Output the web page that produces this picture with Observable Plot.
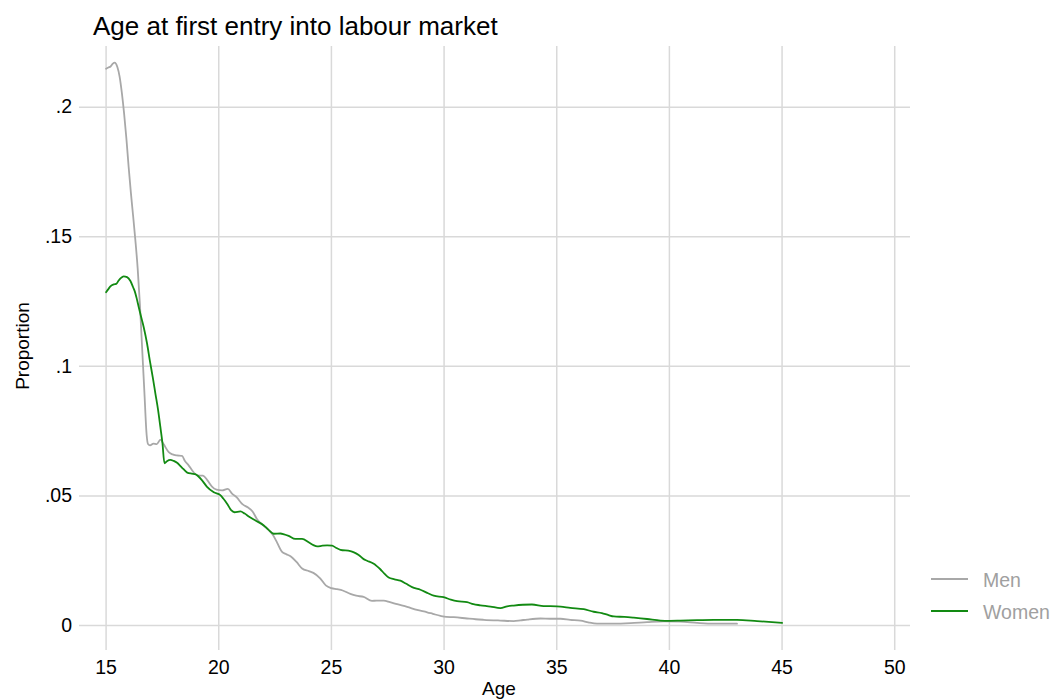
<!DOCTYPE html>
<html>
<head>
<meta charset="utf-8">
<script src="https://cdn.jsdelivr.net/npm/d3@7"></script>
<script src="https://cdn.jsdelivr.net/npm/@observablehq/plot@0.6"></script>
<style>
  body { margin: 0; background: #fff; font-family: Helvetica, Arial, "Liberation Sans", sans-serif; }
  #wrap { position: relative; width: 1053px; height: 700px; overflow: hidden; background: #fff; }
  #chart { position: absolute; left: 0; top: 0; }
  .txt { position: absolute; white-space: nowrap; line-height: 1; }
  #title { left: 93px; top: 13px; font-size: 26px; color: #000; }
  #ylab { left: 22px; top: 346px; font-size: 19px; color: #000; transform: translate(-50%, -50%) rotate(-90deg); }
  #xlab { left: 499px; top: 679px; font-size: 19px; color: #000; transform: translateX(-50%); }
  .legline { position: absolute; left: 931px; width: 37px; height: 0; }
  .legtxt { position: absolute; left: 983px; font-size: 19.5px; color: #a0a0a0; line-height: 1; white-space: nowrap; }
</style>
</head>
<body>
<div id="wrap">
  <div id="chart"></div>
  <div id="title" class="txt">Age at first entry into labour market</div>
  <div id="ylab" class="txt">Proportion</div>
  <div id="xlab" class="txt">Age</div>
  <div id="legend"></div>
</div>
<script>
// ---- data ----
const seriesNames = ["Men", "Women"];
const seriesColors = ["#a8a8a8", "#128a12"];

const menAge = [15.0,15.1,15.2,15.3,15.38,15.5,15.6,15.7,15.8,15.9,16.0,16.1,16.2,16.3,16.4,16.5,16.6,16.7,16.8,16.86,16.95,17.1,17.25,17.41,17.55,17.78,17.95,18.15,18.37,18.5,18.67,18.85,19.04,19.3,19.5,19.7,19.9,20.15,20.4,20.6,20.8,21.05,21.3,21.5,21.7,22.0,22.2,22.4,22.6,22.8,23.0,23.2,23.45,23.7,24.0,24.2,24.5,24.75,25.0,25.25,25.5,25.84,26.1,26.43,26.8,27.0,27.32,27.6,27.92,28.36,28.8,29.25,29.5,29.84,30.1,30.43,31.02,31.4,31.76,32.5,33.09,33.4,33.69,34.28,34.7,35.17,35.6,36.06,36.4,36.79,37.53,38.27,39.01,39.75,40.49,41.23,41.97,43.0];
const menProp = [0.2148,0.2153,0.2157,0.2168,0.2172,0.2155,0.2118,0.2055,0.1975,0.188,0.177,0.167,0.158,0.1486,0.138,0.124,0.107,0.090,0.0735,0.0700,0.0695,0.0702,0.0700,0.0717,0.0700,0.0669,0.0660,0.0656,0.0654,0.0635,0.0617,0.0595,0.0579,0.0578,0.0560,0.0536,0.0524,0.0521,0.0527,0.0508,0.0494,0.0468,0.0455,0.0440,0.0410,0.0385,0.0370,0.0350,0.0318,0.0285,0.0275,0.0266,0.0245,0.0220,0.0210,0.0203,0.0182,0.0155,0.0144,0.0140,0.0135,0.0122,0.0115,0.0110,0.0095,0.0096,0.0096,0.0090,0.0082,0.0072,0.0060,0.0051,0.0045,0.0037,0.0033,0.0032,0.0027,0.0024,0.0022,0.0019,0.0017,0.0020,0.0023,0.0027,0.0026,0.0026,0.0022,0.0019,0.0012,0.0007,0.0007,0.0009,0.0013,0.0016,0.0015,0.0010,0.0007,0.0007];

const womenAge = [15.0,15.1,15.19,15.34,15.45,15.55,15.65,15.78,15.93,16.08,16.2,16.27,16.35,16.45,16.55,16.67,16.82,16.94,17.07,17.19,17.31,17.41,17.5,17.59,17.7,17.85,18.0,18.15,18.3,18.44,18.6,18.8,18.96,19.1,19.26,19.48,19.78,20.07,20.2,20.37,20.55,20.7,20.96,21.15,21.33,21.63,22.0,22.2,22.44,22.74,22.9,23.1,23.4,23.7,23.99,24.2,24.37,24.6,24.81,25.03,25.2,25.4,25.84,26.0,26.21,26.43,26.58,26.88,27.0,27.17,27.35,27.54,27.8,28.06,28.3,28.58,28.95,29.25,29.54,29.98,30.3,30.58,31.02,31.3,31.61,32.06,32.5,32.8,33.09,33.5,33.9,34.42,35.0,35.17,35.6,36.2,36.64,37.0,37.3,37.53,38.0,38.42,39.01,39.6,40.0,40.49,41.23,41.97,43.0,43.89,45.0];
const womenProp = [0.1286,0.1298,0.1308,0.1316,0.1318,0.1330,0.1340,0.1347,0.1344,0.1329,0.1305,0.1290,0.1265,0.1228,0.1192,0.1151,0.1087,0.1023,0.0958,0.0894,0.0830,0.0765,0.0705,0.0626,0.0634,0.0639,0.0635,0.0628,0.0615,0.0603,0.0590,0.0586,0.0584,0.0575,0.0560,0.0535,0.0514,0.0503,0.0490,0.0470,0.0445,0.0437,0.0440,0.0432,0.0421,0.0405,0.0386,0.0370,0.0354,0.0355,0.0352,0.0346,0.0334,0.0334,0.0321,0.0310,0.0305,0.0308,0.0309,0.0308,0.0300,0.0292,0.0287,0.0282,0.0272,0.0256,0.0250,0.0238,0.0230,0.0217,0.0200,0.0185,0.0178,0.0173,0.0162,0.0148,0.0138,0.0126,0.0115,0.0109,0.0100,0.0094,0.0090,0.0082,0.0078,0.0073,0.0067,0.0074,0.0077,0.0080,0.0081,0.0075,0.0074,0.0073,0.0068,0.0063,0.0053,0.0048,0.0040,0.0035,0.0033,0.0030,0.0025,0.0019,0.0018,0.0019,0.0021,0.0022,0.0022,0.0017,0.0010];

const xTicks = [15, 20, 25, 30, 35, 40, 45, 50];
const yTicks = [0, 0.05, 0.1, 0.15, 0.2];
const yTickLabels = ["0", ".05", ".1", ".15", ".2"];

// ---- build table ----
const rows = [
  ...menAge.map((a, i) => ({age: a, prop: menProp[i], sex: seriesNames[0]})),
  ...womenAge.map((a, i) => ({age: a, prop: womenProp[i], sex: seriesNames[1]}))
];

const font = "Helvetica, Arial, 'Liberation Sans', sans-serif";
const gridColor = "#d9d9d9";

const chart = Plot.plot({
  width: 1053,
  height: 700,
  marginTop: 46,
  marginBottom: 50,
  marginLeft: 79,
  marginRight: 143,
  x: {domain: [13.82, 50.7]},
  y: {domain: [-0.00965, 0.2234]},
  color: {domain: seriesNames, range: seriesColors},
  style: {fontFamily: font, fontSize: "19.5px", color: "#000", background: "transparent", overflow: "visible"},
  marks: [
    Plot.ruleY(yTicks, {stroke: gridColor, strokeWidth: 1.5}),
    Plot.ruleX(xTicks, {stroke: gridColor, strokeWidth: 1.5}),
    Plot.axisX(xTicks, {tickSize: 0, tickPadding: 10, label: null, fontSize: 19.5, fill: "#000"}),
    Plot.axisY(yTicks, {tickSize: 0, tickPadding: 7.5, label: null, fontSize: 19.5, fill: "#000",
      tickFormat: d => yTickLabels[yTicks.indexOf(d)]}),
    Plot.line(rows, {x: "age", y: "prop", z: "sex", stroke: "sex", strokeWidth: 1.8, curve: "monotone-x"})
  ]
});
document.getElementById("chart").appendChild(chart);

// ---- legend ----
const legend = document.getElementById("legend");
const legLineY = [579, 611];
seriesNames.forEach((name, i) => {
  const ln = document.createElement("div");
  ln.className = "legline";
  ln.style.top = (legLineY[i] - 1) + "px";
  ln.style.borderTop = "2px solid " + seriesColors[i];
  legend.appendChild(ln);
  const tx = document.createElement("div");
  tx.className = "legtxt";
  tx.style.top = (legLineY[i] - 8) + "px";
  tx.textContent = name;
  legend.appendChild(tx);
});
</script>
</body>
</html>
